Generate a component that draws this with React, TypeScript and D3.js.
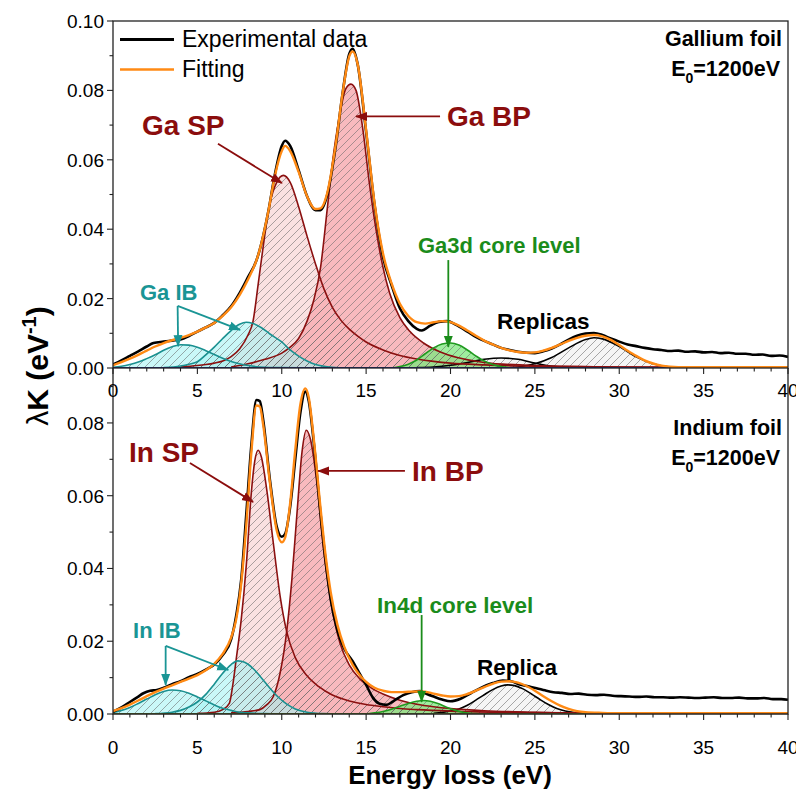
import React from "react";
import * as d3 from "d3";

type P = [number, number];

// ---------- axis ticks ----------
const xMajorTicks = [0, 5, 10, 15, 20, 25, 30, 35, 40];
const xMinorTicks = d3.range(0, 41, 1);
const gaYTicks = [0, 0.02, 0.04, 0.06, 0.08, 0.1];
const gaYMinor = [0.01, 0.03, 0.05, 0.07, 0.09];
const inYTicks = [0, 0.02, 0.04, 0.06, 0.08];
const inYMinor = [0.01, 0.03, 0.05, 0.07, 0.09];

// ---------- Gallium panel ----------
const gaExp: P[] = [[0,0.001],[0.5,0.0022],[1,0.0035],[1.5,0.0048],[2,0.0062],[2.4,0.0072],[3,0.0076],[3.5,0.0079],[4,0.0082],[4.5,0.0092],[5,0.0105],[5.5,0.0117],[6,0.013],[6.5,0.0152],[7,0.0178],[7.5,0.0216],[8,0.0262],[8.5,0.031],[8.8,0.036],[9.2,0.045],[9.6,0.056],[10,0.064],[10.2,0.0655],[10.5,0.064],[11,0.057],[11.5,0.0495],[12,0.0455],[12.3,0.0455],[12.7,0.05],[13.2,0.064],[13.6,0.079],[14,0.0905],[14.2,0.092],[14.5,0.0875],[15,0.068],[15.5,0.047],[16,0.032],[16.5,0.024],[17,0.0172],[17.5,0.0135],[18,0.0113],[18.3,0.0108],[18.8,0.0122],[19.3,0.0133],[19.8,0.0135],[20.3,0.0125],[21,0.0105],[21.5,0.009],[22,0.0078],[22.5,0.0068],[23,0.0058],[23.5,0.0052],[24,0.0047],[24.5,0.0044],[25,0.0043],[25.5,0.0048],[26,0.0056],[26.5,0.0068],[27,0.0082],[27.5,0.0093],[28,0.0099],[28.5,0.0101],[29,0.0095],[29.5,0.0085],[30,0.0076],[30.5,0.0068],[31,0.0063],[31.5,0.0058],[32,0.0054],[32.5,0.0052],[33,0.0049],[33.5,0.005],[34,0.0047],[34.5,0.0048],[35,0.0045],[35.5,0.0046],[36,0.0043],[36.5,0.0044],[37,0.0041],[37.5,0.0041],[38,0.0038],[38.5,0.0039],[39,0.0035],[39.5,0.0036],[40,0.0032]];
const gaFit: P[] = [[0,0.0008],[0.5,0.0017],[1,0.0027],[1.5,0.0038],[2,0.005],[2.5,0.0062],[3,0.0072],[3.5,0.008],[4,0.0087],[4.5,0.0095],[5,0.0105],[5.5,0.0117],[6,0.013],[6.5,0.015],[7,0.0175],[7.5,0.021],[8,0.0255],[8.5,0.031],[8.8,0.036],[9.2,0.045],[9.6,0.0555],[10,0.0625],[10.2,0.064],[10.5,0.0625],[11,0.0565],[11.5,0.0495],[12,0.0458],[12.3,0.046],[12.7,0.0505],[13.2,0.0645],[13.6,0.079],[14,0.0898],[14.2,0.0912],[14.5,0.0875],[15,0.0685],[15.5,0.0475],[16,0.033],[16.5,0.0245],[17,0.0185],[17.5,0.015],[18,0.0132],[18.5,0.0128],[19,0.0132],[19.5,0.0135],[20,0.0132],[20.5,0.0122],[21,0.0108],[21.5,0.0093],[22,0.0079],[22.5,0.0068],[23,0.0058],[23.5,0.0051],[24,0.0046],[24.5,0.0044],[25,0.0045],[25.5,0.005],[26,0.0058],[26.5,0.0068],[27,0.0078],[27.5,0.0087],[28,0.0093],[28.5,0.0095],[29,0.0091],[29.5,0.0081],[30,0.0066],[30.5,0.005],[31,0.0035],[31.5,0.0022],[32,0.0013],[32.5,0.0007],[33,0.0004],[34,0.0002],[40,0.0002]];
const gaIB1: P[] = [[0,0.0002],[0.5,0.0005],[1,0.001],[1.5,0.0017],[2,0.0027],[2.5,0.0038],[3,0.0051],[3.5,0.0061],[4,0.0067],[4.5,0.0066],[5,0.006],[5.5,0.005],[6,0.0039],[6.5,0.0028],[7,0.0019],[7.5,0.0012],[8,0.0007],[9,0.0002],[10,0.0001],[12,0]];
const gaIB2: P[] = [[3,0.0001],[4,0.0006],[4.5,0.0011],[5,0.0018],[5.5,0.0038],[6,0.006],[6.5,0.0085],[7,0.0108],[7.5,0.0126],[7.9,0.0132],[8.3,0.0128],[8.8,0.0116],[9.3,0.0098],[10,0.0075],[10.5,0.0052],[11,0.0034],[11.5,0.002],[12,0.001],[13,0.0002],[14,0]];
const gaSP: P[] = [[4,0.0003],[5,0.0007],[5.5,0.001],[6,0.0014],[6.5,0.002],[7,0.0033],[7.5,0.0055],[8,0.0095],[8.3,0.0135],[8.6,0.024],[8.9,0.035],[9.3,0.0475],[9.7,0.0535],[10.1,0.0555],[10.5,0.0535],[11,0.0465],[11.5,0.038],[12,0.03],[12.5,0.0228],[13,0.0175],[13.5,0.0138],[14,0.0112],[14.5,0.0092],[15,0.0075],[16,0.0052],[17,0.0036],[18,0.0026],[19,0.0019],[20,0.0014],[22,0.0009],[25,0.0005],[30,0.0003],[40,0.0001]];
const gaBP: P[] = [[7,0.0003],[8,0.0012],[9,0.0025],[10,0.0043],[10.5,0.006],[11,0.0085],[11.5,0.0135],[11.9,0.0196],[12.3,0.029],[12.7,0.046],[13,0.059],[13.4,0.072],[13.8,0.0805],[14.1,0.0818],[14.4,0.08],[14.8,0.069],[15.2,0.053],[15.6,0.0395],[16,0.029],[16.4,0.0215],[17,0.0145],[17.6,0.0105],[18.4,0.0072],[19.4,0.0046],[20.4,0.003],[22,0.0016],[25,0.0007],[30,0.0003],[40,0.0001]];
const gaCore: P[] = [[16.5,0],[17,0.0004],[17.5,0.0011],[18,0.0023],[18.5,0.0041],[19,0.0058],[19.5,0.0069],[20,0.0072],[20.5,0.0066],[21,0.0052],[21.5,0.0035],[22,0.002],[22.5,0.001],[23,0.0004],[23.5,0.0001]];
const gaRep1: P[] = [[18,0.0001],[19,0.0003],[20,0.0008],[21,0.0016],[22,0.0025],[23,0.0029],[24,0.0025],[25,0.0014],[26,0.0005],[27,0.0001]];
const gaRep2: P[] = [[23.5,0.0001],[24,0.0003],[25,0.0012],[26,0.003],[27,0.0058],[28,0.0082],[28.5,0.0087],[29,0.0084],[30,0.0062],[31,0.0032],[32,0.0012],[33,0.0003],[34,0]];

// ---------- Indium panel ----------
const inExp: P[] = [[0,0.0006],[0.5,0.0018],[1,0.0033],[1.5,0.0048],[1.8,0.0057],[2.2,0.0064],[2.6,0.0066],[3,0.0072],[3.5,0.0082],[4,0.009],[4.5,0.0101],[5,0.011],[5.5,0.0122],[6,0.0136],[6.5,0.0162],[7,0.0205],[7.3,0.027],[7.6,0.037],[7.9,0.055],[8.2,0.074],[8.5,0.0863],[8.7,0.086],[8.9,0.0808],[9.3,0.0643],[9.7,0.0515],[10,0.0487],[10.2,0.0495],[10.5,0.057],[10.8,0.07],[11.1,0.0827],[11.4,0.0886],[11.6,0.086],[11.9,0.0745],[12.3,0.055],[12.6,0.042],[12.9,0.0315],[13.3,0.023],[13.7,0.018],[14.2,0.0145],[14.6,0.0112],[15,0.008],[15.4,0.0045],[15.8,0.0028],[16.2,0.0025],[16.6,0.0035],[17.2,0.0052],[17.7,0.006],[18.2,0.0063],[18.6,0.0055],[19,0.0048],[19.5,0.004],[20,0.0035],[20.6,0.0042],[21.2,0.0057],[21.8,0.0072],[22.5,0.0085],[23.1,0.0092],[23.6,0.009],[24.1,0.0081],[24.6,0.0076],[25.1,0.0071],[25.6,0.0065],[26.1,0.006],[26.6,0.0058],[27.1,0.0055],[27.6,0.0056],[28.1,0.0053],[28.6,0.0052],[29.1,0.0053],[29.6,0.005],[30.1,0.0049],[30.6,0.0048],[31.1,0.0047],[31.6,0.0048],[32.1,0.0046],[32.6,0.0046],[33.1,0.0045],[33.6,0.0046],[34.1,0.0045],[34.6,0.0044],[35.1,0.0045],[35.6,0.0046],[36.1,0.0044],[36.6,0.0044],[37.1,0.0045],[37.6,0.0043],[38.1,0.0043],[38.6,0.0044],[39.1,0.0041],[39.6,0.0041],[40,0.0039]];
const inFit: P[] = [[0,0.0008],[0.5,0.0016],[1,0.0026],[1.5,0.0037],[2,0.0049],[2.5,0.006],[3,0.007],[3.5,0.0079],[4,0.0088],[4.5,0.0097],[5,0.0107],[5.5,0.012],[6,0.0138],[6.5,0.0165],[7,0.021],[7.3,0.026],[7.6,0.036],[7.9,0.052],[8.2,0.072],[8.5,0.0848],[8.7,0.0845],[8.9,0.0795],[9.3,0.0635],[9.7,0.0505],[10,0.0472],[10.2,0.0485],[10.5,0.058],[10.8,0.0725],[11.1,0.085],[11.4,0.0895],[11.6,0.087],[11.9,0.0755],[12.3,0.0565],[12.6,0.0435],[12.9,0.0335],[13.3,0.0245],[13.7,0.0185],[14.2,0.0135],[14.6,0.0108],[15,0.0088],[15.5,0.0072],[16,0.0064],[16.5,0.006],[17,0.006],[17.5,0.0061],[18,0.0062],[18.5,0.0061],[19,0.0056],[19.5,0.0051],[20,0.0048],[20.5,0.0049],[21,0.0055],[21.5,0.0064],[22,0.0074],[22.5,0.0083],[23,0.0089],[23.5,0.009],[24,0.0086],[24.5,0.0077],[25,0.0064],[25.5,0.0049],[26,0.0035],[26.5,0.0023],[27,0.0014],[27.5,0.0008],[28,0.0005],[29,0.0003],[30,0.0002],[40,0.0002]];
const inIB1: P[] = [[0,0.0004],[0.5,0.001],[1,0.0018],[1.5,0.0029],[2,0.0041],[2.5,0.0053],[3,0.0062],[3.5,0.0066],[4,0.0064],[4.5,0.0057],[5,0.0047],[5.5,0.0036],[6,0.0025],[6.5,0.0016],[7,0.001],[7.5,0.0005],[8,0.0003],[9,0.0001],[10,0]];
const inIB2: P[] = [[2.5,0.0001],[3.5,0.0005],[4,0.001],[4.5,0.0019],[5,0.0033],[5.5,0.0054],[6,0.0082],[6.5,0.0112],[7,0.0136],[7.4,0.0146],[7.8,0.0142],[8.3,0.0125],[8.8,0.0099],[9.3,0.0071],[9.8,0.0046],[10.3,0.0027],[10.8,0.0014],[11.5,0.0005],[12.5,0.0001],[13.5,0]];
const inSP: P[] = [[5,0.0002],[6,0.0005],[6.5,0.0012],[6.9,0.003],[7.1,0.008],[7.3,0.015],[7.6,0.026],[7.9,0.041],[8.2,0.061],[8.4,0.0695],[8.6,0.0725],[8.8,0.0705],[9.1,0.062],[9.5,0.047],[9.9,0.0325],[10.3,0.0225],[10.8,0.0155],[11.5,0.0105],[12.2,0.0075],[13,0.0052],[14,0.0036],[15,0.0026],[16,0.002],[17,0.0015],[18,0.0012],[20,0.0008],[25,0.0004],[30,0.0002],[40,0.0001]];
const inBP: P[] = [[7,0.0003],[8,0.0007],[8.7,0.0012],[9.1,0.0025],[9.5,0.0048],[9.9,0.0112],[10.3,0.023],[10.6,0.037],[10.9,0.055],[11.2,0.072],[11.45,0.078],[11.7,0.0755],[12.07,0.064],[12.46,0.046],[12.86,0.0322],[13.45,0.0195],[14,0.0135],[14.6,0.0098],[15.3,0.0072],[16,0.0055],[17,0.0038],[18,0.0027],[19,0.002],[20,0.0015],[22,0.0009],[25,0.0005],[30,0.0002],[40,0.0001]];
const inCore: P[] = [[15,0],[15.5,0.0003],[16,0.0007],[16.5,0.0013],[17,0.0021],[17.5,0.0029],[18,0.0035],[18.4,0.0037],[18.8,0.0035],[19.3,0.0028],[19.8,0.0018],[20.3,0.001],[20.8,0.0004],[21.5,0.0001],[22,0]];
const inRep: P[] = [[19,0.0002],[20,0.0008],[20.5,0.0014],[21,0.0024],[21.5,0.0038],[22,0.0053],[22.5,0.0067],[23,0.0077],[23.4,0.008],[23.8,0.0078],[24.3,0.0069],[24.8,0.0055],[25.3,0.004],[25.8,0.0026],[26.3,0.0015],[26.8,0.0008],[27.5,0.0003],[28.5,0]];

// ---------- labels ----------
const legendLabels = ["Experimental data", "Fitting"];
const gaTitle = ["Gallium foil", "1200eV"];
const inTitle = ["Indium foil", "1200eV"];

const FONT = "'Liberation Sans', Arial, Helvetica, sans-serif";
const C = {
  exp: "#000000",
  fit: "#ff8a14",
  teal: "#1a9090",
  tealFill: "#a6f4f4",
  red: "#8b1010",
  spFill: "#f9dcdc",
  bpFill: "#f7aeb3",
  green: "#1f9a1f",
  greenFill: "#7ee87e",
  repFill: "#ececec",
  labelRed: "#8b0d0d",
  labelTeal: "#1a9595",
  labelGreen: "#1b8c1b",
};

const W = 796;
const H = 792;
const L = 113;
const R = 788;
const TOP = 21;
const MID = 368;
const BOT = 714;

const x = d3.scaleLinear().domain([0, 40]).range([L, R]);
const yGa = d3.scaleLinear().domain([0, 0.1]).range([MID, TOP]);
const yIn = d3.scaleLinear().domain([0, 0.0951]).range([BOT, MID]);

type Comp = { data: P[]; fill: string; stroke: string; op: number };

const gaComps: Comp[] = [
  { data: gaRep1, fill: C.repFill, stroke: "#000", op: 0.5 },
  { data: gaRep2, fill: C.repFill, stroke: "#000", op: 0.5 },
  { data: gaSP, fill: C.spFill, stroke: C.red, op: 0.85 },
  { data: gaBP, fill: C.bpFill, stroke: C.red, op: 0.85 },
  { data: gaIB1, fill: C.tealFill, stroke: C.teal, op: 0.6 },
  { data: gaIB2, fill: C.tealFill, stroke: C.teal, op: 0.6 },
  { data: gaCore, fill: C.greenFill, stroke: C.green, op: 0.75 },
];
const inComps: Comp[] = [
  { data: inRep, fill: C.repFill, stroke: "#000", op: 0.5 },
  { data: inSP, fill: C.spFill, stroke: C.red, op: 0.85 },
  { data: inBP, fill: C.bpFill, stroke: C.red, op: 0.85 },
  { data: inIB1, fill: C.tealFill, stroke: C.teal, op: 0.6 },
  { data: inIB2, fill: C.tealFill, stroke: C.teal, op: 0.6 },
  { data: inCore, fill: C.greenFill, stroke: C.green, op: 0.75 },
];

type Arrow = { from: P; to: P; color: string; marker: string };
type Label = { text: string; at: P; color: string; size: number };

const gaArrows: Arrow[] = [
  { from: [6.22, 0.0646], to: [10.01, 0.0533], color: C.labelRed, marker: "mRed" },
  { from: [19.38, 0.0725], to: [14.4, 0.0725], color: C.labelRed, marker: "mRed" },
  { from: [3.83, 0.0179], to: [3.86, 0.0063], color: C.labelTeal, marker: "mTeal" },
  { from: [3.83, 0.0179], to: [7.53, 0.011], color: C.labelTeal, marker: "mTeal" },
  { from: [19.87, 0.0311], to: [19.87, 0.0061], color: C.labelGreen, marker: "mGreen" },
];
const gaLabels: Label[] = [
  { text: "Ga SP", at: [1.72, 0.0671], color: C.labelRed, size: 28 },
  { text: "Ga BP", at: [19.79, 0.0697], color: C.labelRed, size: 28 },
  { text: "Ga IB", at: [1.6, 0.0196], color: C.labelTeal, size: 22 },
  { text: "Ga3d core level", at: [18.07, 0.0331], color: C.labelGreen, size: 22 },
  { text: "Replicas", at: [22.76, 0.0112], color: "#000", size: 22.5 },
];
const inArrows: Arrow[] = [
  { from: [4.56, 0.069], to: [8.3, 0.0583], color: C.labelRed, marker: "mRed" },
  { from: [17.3, 0.0668], to: [12.15, 0.0668], color: C.labelRed, marker: "mRed" },
  { from: [3.12, 0.0187], to: [3.12, 0.008], color: C.labelTeal, marker: "mTeal" },
  { from: [3.12, 0.0187], to: [6.83, 0.0121], color: C.labelTeal, marker: "mTeal" },
  { from: [18.29, 0.0272], to: [18.29, 0.0034], color: C.labelGreen, marker: "mGreen" },
];
const inLabels: Label[] = [
  { text: "In SP", at: [0.95, 0.0693], color: C.labelRed, size: 28 },
  { text: "In BP", at: [17.72, 0.0641], color: C.labelRed, size: 28 },
  { text: "In IB", at: [1.19, 0.0209], color: C.labelTeal, size: 22 },
  { text: "In4d core level", at: [15.64, 0.0278], color: C.labelGreen, size: 22.5 },
  { text: "Replica", at: [21.57, 0.0107], color: "#000", size: 22.5 },
];

function Panel({
  y, comps, exp, fit, arrows, labels, baseColor, id,
}: {
  y: d3.ScaleLinear<number, number>;
  comps: Comp[];
  exp: P[];
  fit: P[];
  arrows: Arrow[];
  labels: Label[];
  baseColor: string;
  id: string;
}) {
  const area = d3
    .area<P>()
    .x((d) => x(d[0]))
    .y0(y(0))
    .y1((d) => y(d[1]))
    .curve(d3.curveMonotoneX);
  const line = d3
    .line<P>()
    .x((d) => x(d[0]))
    .y((d) => y(d[1]))
    .curve(d3.curveMonotoneX);
  return (
    <g>
      <clipPath id={`clip-${id}`}>
        <rect x={x(0)} y={y.range()[1]} width={x(40) - x(0)} height={y.range()[0] - y.range()[1]} />
      </clipPath>
      <g clipPath={`url(#clip-${id})`}>
        {comps.map((c, i) => (
          <path key={"f" + i} d={area(c.data) || ""} fill={c.fill} fillOpacity={c.op} />
        ))}
        {comps.map((c, i) => (
          <path key={"h" + i} d={area(c.data) || ""} fill="url(#hatch)" />
        ))}
        {comps.map((c, i) => (
          <path key={"s" + i} d={line(c.data) || ""} fill="none" stroke={c.stroke} strokeWidth={1.6} />
        ))}
        <line x1={x(0)} x2={x(40)} y1={y(0)} y2={y(0)} stroke={baseColor} strokeWidth={1.8} />
        <path d={line(exp) || ""} fill="none" stroke={C.exp} strokeWidth={2.6} strokeLinejoin="round" />
        <path d={line(fit) || ""} fill="none" stroke={C.fit} strokeWidth={2.4} strokeLinejoin="round" />
      </g>
      {arrows.map((a, i) => (
        <line
          key={"a" + i}
          x1={x(a.from[0])}
          y1={y(a.from[1])}
          x2={x(a.to[0])}
          y2={y(a.to[1])}
          stroke={a.color}
          strokeWidth={1.8}
          markerEnd={`url(#${a.marker})`}
        />
      ))}
      {labels.map((l, i) => (
        <text
          key={"l" + i}
          x={x(l.at[0])}
          y={y(l.at[1])}
          fill={l.color}
          fontSize={l.size}
          fontWeight="bold"
          fontFamily={FONT}
        >
          {l.text}
        </text>
      ))}
    </g>
  );
}

function Marker({ id, color }: { id: string; color: string }) {
  return (
    <marker id={id} markerUnits="userSpaceOnUse" markerWidth={12} markerHeight={10} refX={11} refY={5} orient="auto">
      <path d="M0,0.5 L12,5 L0,9.5 z" fill={color} />
    </marker>
  );
}

export default function App() {
  const tickFont = 19;
  return (
    <svg
      width={W}
      height={H}
      viewBox={`0 0 ${W} ${H}`}
      style={{ position: "absolute", left: 0, top: 0, background: "#fff" }}
      fontFamily={FONT}
    >
      <defs>
        <pattern id="hatch" patternUnits="userSpaceOnUse" width={8} height={8}>
          <path d="M-1,1 l2,-2 M0,8 l8,-8 M7,9 l2,-2" stroke="#666" strokeWidth={0.65} strokeOpacity={0.85} />
        </pattern>
        <Marker id="mRed" color={C.labelRed} />
        <Marker id="mTeal" color={C.labelTeal} />
        <Marker id="mGreen" color={C.labelGreen} />
      </defs>
      <rect x={0} y={0} width={W} height={H} fill="#fff" />

      <Panel y={yGa} comps={gaComps} exp={gaExp} fit={gaFit} arrows={gaArrows} labels={gaLabels} baseColor="#1a2a80" id="ga" />
      <Panel y={yIn} comps={inComps} exp={inExp} fit={inFit} arrows={inArrows} labels={inLabels} baseColor="#6f8f22" id="in" />

      {/* frames */}
      <rect x={L} y={TOP} width={R - L} height={MID - TOP} fill="none" stroke="#222" strokeWidth={1.3} />
      <path d={`M${L},${MID} V${BOT} H${R} V${MID}`} fill="none" stroke="#222" strokeWidth={1.3} />

      {/* top x ticks */}
      {xMinorTicks.map((t) => (
        <line key={"gxm" + t} x1={x(t)} x2={x(t)} y1={MID} y2={MID + (t % 5 === 0 ? 6 : 3.5)} stroke="#222" strokeWidth={1.1} />
      ))}
      {xMajorTicks.map((t) => (
        <text key={"gxl" + t} x={x(t)} y={397} textAnchor="middle" fontSize={tickFont}>
          {t}
        </text>
      ))}
      {/* bottom x ticks */}
      {xMinorTicks.map((t) => (
        <line key={"ixm" + t} x1={x(t)} x2={x(t)} y1={BOT} y2={BOT + (t % 5 === 0 ? 6 : 3.5)} stroke="#222" strokeWidth={1.1} />
      ))}
      {xMajorTicks.map((t) => (
        <text key={"ixl" + t} x={x(t)} y={754} textAnchor="middle" fontSize={tickFont}>
          {t}
        </text>
      ))}

      {/* y ticks Ga */}
      {gaYTicks.map((t) => (
        <g key={"gy" + t}>
          <line x1={L - 6} x2={L} y1={yGa(t)} y2={yGa(t)} stroke="#222" strokeWidth={1.1} />
          <text x={L - 9} y={yGa(t) + 7} textAnchor="end" fontSize={tickFont}>
            {t.toFixed(2)}
          </text>
        </g>
      ))}
      {gaYMinor.map((t) => (
        <line key={"gym" + t} x1={L - 3.5} x2={L} y1={yGa(t)} y2={yGa(t)} stroke="#222" strokeWidth={1.1} />
      ))}
      {/* y ticks In */}
      {inYTicks.map((t) => (
        <g key={"iy" + t}>
          <line x1={L - 6} x2={L} y1={yIn(t)} y2={yIn(t)} stroke="#222" strokeWidth={1.1} />
          <text x={L - 9} y={yIn(t) + 7} textAnchor="end" fontSize={tickFont}>
            {t.toFixed(2)}
          </text>
        </g>
      ))}
      {inYMinor.map((t) => (
        <line key={"iym" + t} x1={L - 3.5} x2={L} y1={yIn(t)} y2={yIn(t)} stroke="#222" strokeWidth={1.1} />
      ))}

      {/* legend */}
      <line x1={120} x2={174} y1={39.5} y2={39.5} stroke={C.exp} strokeWidth={2.8} />
      <text x={182} y={47} fontSize={23}>{legendLabels[0]}</text>
      <line x1={120} x2={174} y1={69.5} y2={69.5} stroke={C.fit} strokeWidth={2.4} />
      <text x={182} y={77} fontSize={23}>{legendLabels[1]}</text>

      {/* panel titles */}
      <text x={782} y={46} textAnchor="end" fontSize={21.5} fontWeight="bold">{gaTitle[0]}</text>
      <text x={780} y={76} textAnchor="end" fontSize={21.5} fontWeight="bold">
        E<tspan fontSize={14} dy={7}>0</tspan><tspan dy={-7}>={gaTitle[1]}</tspan>
      </text>
      <text x={782} y={435} textAnchor="end" fontSize={21.5} fontWeight="bold">{inTitle[0]}</text>
      <text x={780} y={465} textAnchor="end" fontSize={21.5} fontWeight="bold">
        E<tspan fontSize={14} dy={7}>0</tspan><tspan dy={-7}>={inTitle[1]}</tspan>
      </text>

      {/* axis titles */}
      <text x={450} y={784} textAnchor="middle" fontSize={26} fontWeight="bold">Energy loss (eV)</text>
      <text transform="translate(48,366) rotate(-90)" textAnchor="middle" fontSize={30} fontWeight="bold">
        <tspan fontWeight="normal">λ</tspan>K (eV<tspan fontSize={20} dy={-12}>-1</tspan><tspan dy={12}>)</tspan>
      </text>
    </svg>
  );
}
